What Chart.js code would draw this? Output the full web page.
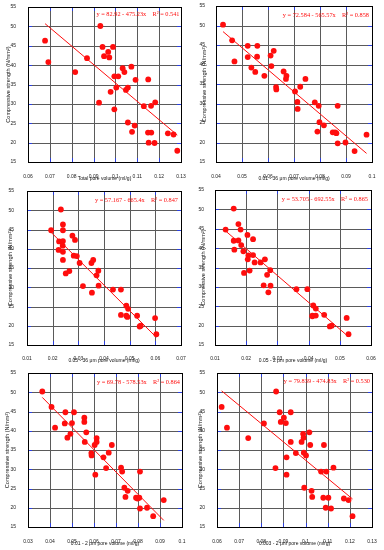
<!DOCTYPE html>
<html>
<head>
<meta charset="utf-8">
<script src="https://cdn.jsdelivr.net/npm/chart.js@4.4.1/dist/chart.umd.min.js"></script>
<style>
  html, body { margin: 0; padding: 0; background: #fff; }
  body { width: 384px; height: 550px; position: relative; overflow: hidden; }
  canvas { position: absolute; }
</style>
</head>
<body>
<canvas id="p1"></canvas>
<canvas id="p2"></canvas>
<canvas id="p3"></canvas>
<canvas id="p4"></canvas>
<canvas id="p5"></canvas>
<canvas id="p6"></canvas>
<script>
// ---- data ------------------------------------------------------------
const strengthTicks = [15, 20, 25, 30, 35, 40, 45, 50, 55];

// total pore volume
const totalTicks = [0.06, 0.07, 0.08, 0.09, 0.1, 0.11, 0.12, 0.13];
const totalX = [0.0678, 0.0693, 0.0816, 0.0870, 0.0931, 0.0941, 0.0948, 0.0967, 0.0972, 0.0989, 0.0995, 0.1013,
                0.0978, 0.1004, 0.1033, 0.1041, 0.1073, 0.1092, 0.1048, 0.1057, 0.0925, 0.0995, 0.1150, 0.1130,
                0.1163, 0.1182, 0.1057, 0.1088, 0.1076, 0.1149, 0.1164, 0.1152, 0.1179, 0.1240, 0.1266, 0.1283];
const totalY = [46.3, 40.8, 38.2, 41.8, 50.1, 44.7, 42.3, 43.4, 42.0, 44.7, 37.1, 37.1,
                33.1, 34.2, 39.2, 38.2, 39.6, 36.2, 33.6, 34.2, 30.3, 28.6, 36.3, 29.4,
                29.5, 30.4, 25.2, 24.4, 22.8, 22.6, 22.6, 20.0, 19.9, 22.4, 22.1, 17.9];

// 0.01 - 36 um
const r01to36Ticks = [0.04, 0.05, 0.06, 0.07, 0.08, 0.09, 0.1];
const r01to36X = [0.0427, 0.0462, 0.0471, 0.0522, 0.0522, 0.0559, 0.0558, 0.0536, 0.0551, 0.0586, 0.0610, 0.0613,
                  0.0622, 0.0660, 0.0671, 0.0669, 0.0631, 0.0632, 0.0744, 0.0724, 0.0704, 0.0713, 0.0714, 0.0780,
                  0.0795, 0.0868, 0.0798, 0.0815, 0.0790, 0.0849, 0.0858, 0.0863, 0.0898, 0.0868, 0.0933, 0.0979];
const r01to36Y = [50.2, 46.2, 40.8, 44.8, 41.9, 44.8, 42.0, 39.2, 38.1, 37.1, 42.3, 39.6,
                  43.5, 38.2, 37.1, 36.3, 34.2, 33.6, 36.3, 34.3, 33.1, 30.4, 28.6, 30.3,
                  29.4, 29.4, 25.2, 24.4, 22.8, 22.6, 22.6, 22.4, 20.0, 19.8, 17.8, 22.0];

// 0.05 - 36 um
const r05to36Ticks = [0.01, 0.02, 0.03, 0.04, 0.05, 0.06, 0.07];
const r05to36X = [0.0194, 0.0232, 0.0240, 0.0240, 0.0225, 0.0240, 0.0223, 0.0239, 0.0240, 0.0240, 0.0251, 0.0265,
                  0.0277, 0.0287, 0.0282, 0.0294, 0.0305, 0.0318, 0.0351, 0.0358, 0.0378, 0.0371, 0.0379, 0.0353,
                  0.0435, 0.0466, 0.0466, 0.0487, 0.0491, 0.0487, 0.0494, 0.0529, 0.0539, 0.0543, 0.0599, 0.0604];
const r05to36Y = [44.8, 50.2, 46.3, 44.8, 41.9, 42.0, 39.7, 40.8, 39.2, 37.1, 33.6, 34.2,
                  43.4, 42.3, 38.2, 38.1, 36.3, 30.3, 36.3, 37.1, 34.3, 33.1, 30.4, 28.6,
                  29.4, 29.4, 22.8, 22.6, 22.3, 25.2, 24.4, 22.6, 19.8, 20.0, 22.0, 17.8];

// 0.05 - 2 um
const r05to2Ticks = [0.01, 0.02, 0.03, 0.04, 0.05, 0.06];
const r05to2X = [0.0134, 0.0160, 0.0175, 0.0182, 0.0160, 0.0175, 0.0162, 0.0184, 0.0191, 0.0207, 0.0205, 0.0204,
                 0.0222, 0.0222, 0.0227, 0.0193, 0.0211, 0.0246, 0.0260, 0.0277, 0.0267, 0.0278, 0.0256, 0.0271,
                 0.0361, 0.0396, 0.0415, 0.0423, 0.0412, 0.0412, 0.0423, 0.0450, 0.0468, 0.0474, 0.0522, 0.0528];
const r05to2Y = [44.8, 50.2, 46.2, 44.8, 41.9, 42.0, 39.6, 40.8, 39.2, 38.1, 37.1, 43.4,
                 38.2, 42.3, 36.3, 33.6, 34.2, 36.3, 37.1, 34.3, 33.1, 30.3, 30.4, 28.6,
                 29.4, 29.4, 25.2, 24.4, 22.6, 22.4, 22.6, 22.8, 19.8, 20.0, 22.0, 17.8];

// 0.01 - 2 um
const r01to2Ticks = [0.03, 0.04, 0.05, 0.06, 0.07, 0.08, 0.09, 0.1];
const r01to2X = [0.0365, 0.0407, 0.0423, 0.0470, 0.0467, 0.0479, 0.0493, 0.0500, 0.0509, 0.0556, 0.0556, 0.0565,
                 0.0558, 0.0603, 0.0612, 0.0612, 0.0588, 0.0589, 0.0606, 0.0643, 0.0655, 0.0667, 0.0681, 0.0723,
                 0.0728, 0.0809, 0.0738, 0.0753, 0.0743, 0.0791, 0.0798, 0.0806, 0.0809, 0.0841, 0.0869, 0.0917];
const r01to2Y = [50.2, 46.2, 40.8, 44.8, 41.9, 38.2, 39.2, 42.0, 44.8, 43.4, 42.3, 39.6,
                 37.1, 36.3, 38.1, 37.1, 34.2, 33.6, 28.6, 33.1, 30.3, 34.3, 36.3, 30.4,
                 29.4, 29.4, 25.2, 24.4, 22.8, 22.6, 22.4, 22.6, 19.8, 20.0, 17.8, 22.0];

// 0.003 - 2 um
const r003to2Ticks = [0.06, 0.07, 0.08, 0.09, 0.1, 0.11, 0.12, 0.13];
const r003to2X = [0.0621, 0.0645, 0.0741, 0.0812, 0.0867, 0.0883, 0.0888, 0.0902, 0.0911, 0.0933, 0.0933, 0.0864,
                  0.0914, 0.0914, 0.0956, 0.0982, 0.0989, 0.0991, 0.0992, 0.1002, 0.1017, 0.1021, 0.1083, 0.0994,
                  0.1027, 0.1030, 0.1070, 0.1094, 0.1126, 0.1080, 0.1103, 0.1091, 0.1115, 0.1173, 0.1194, 0.1212];
const r003to2Y = [46.2, 40.8, 38.1, 41.9, 50.2, 44.8, 42.3, 43.4, 42.0, 44.8, 37.1, 30.3,
                  33.1, 28.6, 34.2, 37.1, 39.2, 38.2, 34.3, 33.6, 39.6, 36.3, 36.3, 25.2,
                  24.4, 22.8, 29.4, 29.4, 30.4, 22.6, 22.6, 20.0, 19.8, 22.4, 22.0, 17.8];

// linear fits  y = a - b x
const fitA  = [82.92, 72.584, 57.167, 53.705, 69.78, 79.839];
const fitB  = [475.23, 565.57, 665.4, 692.55, 578.53, 474.83];
const fitR2 = [0.541, 0.858, 0.847, 0.865, 0.864, 0.530];

const xTitles = [
  'Total pore volume (ml/g)',
  '0.01 - 36 \u03bcm pore volume (ml/g)',
  '0.05 - 36 \u03bcm pore volume (ml/g)',
  '0.05 - 2 \u03bcm pore volume (ml/g)',
  '0.01 - 2 \u03bcm pore volume (ml/g)',
  '0.003 - 2 \u03bcm pore volume (ml/g)'
];
const yTitle = 'Compressive strength (N/mm\u00b2)';

// ---- layout (page px) -------------------------------------------------
// cell: canvas box, plot: [left, top, right, bottom] of the plot frame
const panels = [
  { id: 'p1', cell: [0, 0, 192, 183],     plot: [28, 6, 181, 162],    yTitleX: 8,     yPad: 4, xPad: 4, xTitleY: 178.5, eq: [1.5, 7.5] },
  { id: 'p2', cell: [192, 0, 192, 183],   plot: [216, 6, 372, 162],   yTitleX: 204,   yPad: 3, xPad: 4, xTitleY: 178.5, eq: [3, 9] },
  { id: 'p3', cell: [0, 183, 192, 183],   plot: [27, 189, 181, 345],  yTitleX: 10,    yPad: 5, xPad: 3, xTitleY: 360.5, eq: [3, 9] },
  { id: 'p4', cell: [192, 183, 192, 183], plot: [215, 190, 371, 345], yTitleX: 203.5, yPad: 3, xPad: 3, xTitleY: 360.5, eq: [3, 9] },
  { id: 'p5', cell: [0, 366, 192, 184],   plot: [28, 371, 182, 527],  yTitleX: 7,     yPad: 4, xPad: 4, xTitleY: 544,   eq: [2, 9] },
  { id: 'p6', cell: [192, 366, 192, 184], plot: [217, 371, 372, 527], yTitleX: 200,   yPad: 4, xPad: 4, xTitleY: 544,   eq: [2, 8] }
];
const series = [
  [totalX, totalY, totalTicks],
  [r01to36X, r01to36Y, r01to36Ticks],
  [r05to36X, r05to36Y, r05to36Ticks],
  [r05to2X, r05to2Y, r05to2Ticks],
  [r01to2X, r01to2Y, r01to2Ticks],
  [r003to2X, r003to2Y, r003to2Ticks]
];

const RED = '#ff0d0d';
const TICK_FONT = { family: "'Liberation Sans', Arial, sans-serif", size: 5 };
const XT_FONT = { family: "'Liberation Sans', Arial, sans-serif", size: 5 };
const YT_FONT = { family: "'Liberation Sans', Arial, sans-serif", size: 5.6 };

// grid, little blue marks at the edges and the frame
const framePlugin = {
  id: 'frame',
  beforeDatasetsDraw(chart) {
    const { ctx, chartArea: a, scales } = chart;
    const L = Math.round(a.left), T = Math.round(a.top);
    const R = Math.round(a.right), B = Math.round(a.bottom);
    const xp = scales.x.ticks.map(t => Math.round(scales.x.getPixelForValue(t.value)) + 0.5);
    const yp = scales.y.ticks.map(t => Math.round(scales.y.getPixelForValue(t.value)) + 0.5);
    ctx.save();
    ctx.lineWidth = 1;
    ctx.strokeStyle = '#5a5a5a';
    ctx.beginPath();
    xp.forEach(px => { ctx.moveTo(px, T); ctx.lineTo(px, B); });
    yp.forEach(py => { ctx.moveTo(L, py); ctx.lineTo(R, py); });
    ctx.stroke();
    ctx.strokeStyle = '#2b3fe0';
    ctx.beginPath();
    xp.forEach(px => {
      ctx.moveTo(px, B); ctx.lineTo(px, B - 4);
      ctx.moveTo(px, T); ctx.lineTo(px, T + 4);
    });
    yp.forEach(py => {
      ctx.moveTo(L, py); ctx.lineTo(L + 4, py);
      ctx.moveTo(R, py); ctx.lineTo(R - 4, py);
    });
    ctx.stroke();
    ctx.strokeStyle = '#000';
    ctx.strokeRect(L + 0.5, T + 0.5, R - L, B - T);
    ctx.restore();
  }
};

// regression equation text
const equationPlugin = {
  id: 'equation',
  afterDatasetsDraw(chart, args, opts) {
    const { ctx, chartArea: a } = chart;
    ctx.save();
    ctx.fillStyle = RED;
    ctx.font = "6.3px 'Liberation Serif', 'Times New Roman', serif";
    ctx.textAlign = 'right';
    ctx.textBaseline = 'middle';
    ctx.fillText(opts.text, a.right - opts.dx, a.top + opts.dy);
    ctx.restore();
  }
};

const fmtTick = v => String(+Number(v).toFixed(3));

panels.forEach((p, i) => {
  const [xs, ys, xTicks] = series[i];
  const [cx, cy, cw, ch] = p.cell;
  const [L, T, R, B] = p.plot;
  const canvas = document.getElementById(p.id);
  canvas.width = cw; canvas.height = ch;
  canvas.style.left = cx + 'px'; canvas.style.top = cy + 'px';

  const pts = xs.map((x, k) => ({ x, y: ys[k] }));
  const x0 = Math.min(...xs), x1 = Math.max(...xs);
  const fitLine = [x0, x1].map(x => ({ x, y: fitA[i] - fitB[i] * x }));
  const eqText = 'y = ' + fitA[i] + ' - ' + fitB[i] + 'x    R\u00b2 = ' + fitR2[i].toFixed(3);

  const yLh = YT_FONT.size * 1.2, xLh = XT_FONT.size * 1.2;

  new Chart(canvas, {
    type: 'scatter',
    data: {
      datasets: [
        { data: pts, backgroundColor: RED, borderColor: RED, borderWidth: 0, pointRadius: 2.9, order: 0 },
        { type: 'line', data: fitLine, borderColor: RED, borderWidth: 1, pointRadius: 0, fill: false, order: 1 }
      ]
    },
    options: {
      responsive: false,
      animation: false,
      devicePixelRatio: 1,
      layout: { padding: { left: 0, top: T - cy, right: cx + cw - R, bottom: 0 } },
      plugins: {
        legend: { display: false },
        tooltip: { enabled: false },
        equation: { text: eqText, dx: p.eq[0], dy: p.eq[1] }
      },
      scales: {
        x: {
          type: 'linear',
          min: xTicks[0], max: xTicks[xTicks.length - 1],
          afterBuildTicks: s => { s.ticks = xTicks.map(v => ({ value: v })); },
          afterFit: s => { s.height = cy + ch - B; },
          grid: { display: false },
          border: { display: false },
          ticks: { color: '#222', font: TICK_FONT, padding: p.xPad, maxRotation: 0, autoSkip: false, callback: fmtTick },
          title: { display: true, text: xTitles[i], color: '#111', font: XT_FONT,
                   padding: { top: 0, bottom: cy + ch - p.xTitleY - xLh / 2 } }
        },
        y: {
          min: strengthTicks[0], max: strengthTicks[strengthTicks.length - 1],
          afterBuildTicks: s => { s.ticks = strengthTicks.map(v => ({ value: v })); },
          afterFit: s => { s.width = L - cx; },
          grid: { display: false },
          border: { display: false },
          ticks: { color: '#222', font: TICK_FONT, padding: p.yPad, autoSkip: false },
          title: { display: true, text: yTitle, color: '#111', font: YT_FONT,
                   padding: { top: p.yTitleX - cx - yLh / 2, bottom: 0 } }
        }
      }
    },
    plugins: [framePlugin, equationPlugin]
  });
});
</script>
</body>
</html>
